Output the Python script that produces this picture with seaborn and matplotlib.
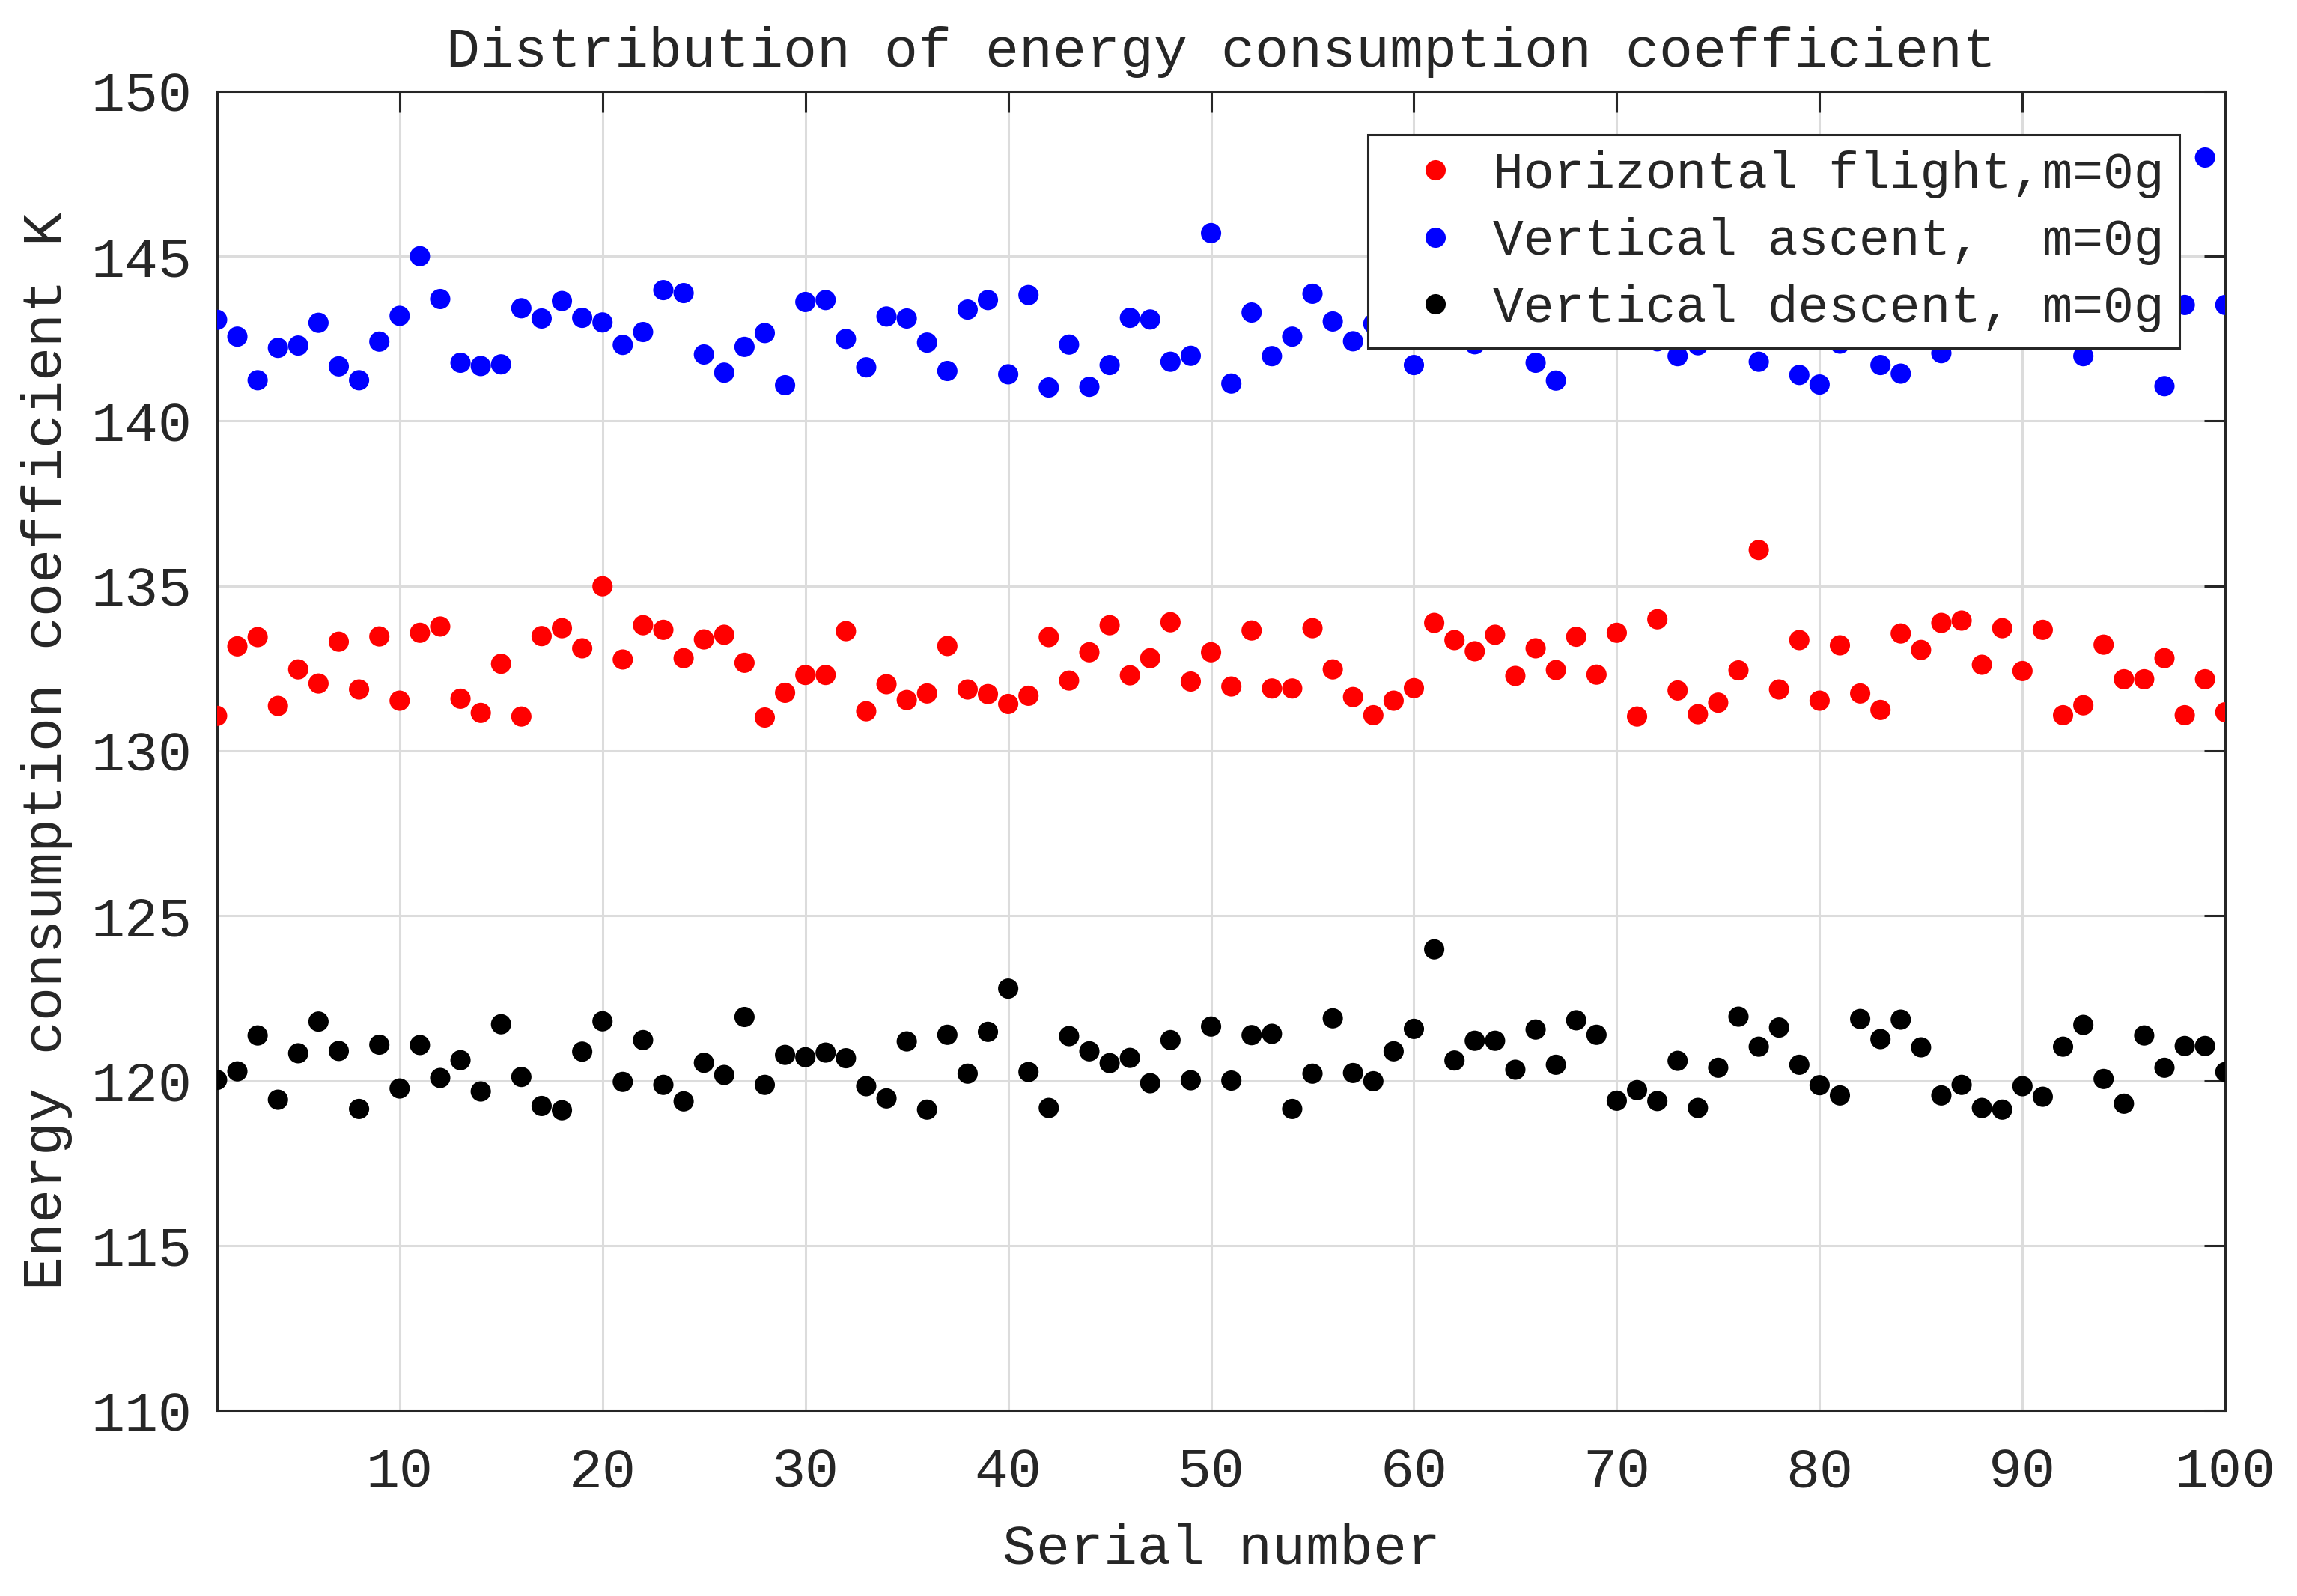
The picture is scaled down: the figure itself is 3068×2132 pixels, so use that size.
import matplotlib
matplotlib.use("Agg")
import matplotlib.pyplot as plt
import seaborn as sns
import numpy as np
import pandas as pd

# serial numbers 1..100
serial = np.arange(1, 101)

horizontal = [131.06, 133.17, 133.45, 131.36, 132.47, 132.04, 133.31, 131.86, 133.47, 131.52,
              133.58, 133.77, 131.58, 131.15, 132.64, 131.04, 133.48, 133.72, 133.11, 134.99,
              132.77, 133.81, 133.67, 132.81, 133.38, 133.52, 132.67, 131.01, 131.76, 132.30,
              132.30, 133.63, 131.20, 132.02, 131.54, 131.74, 133.18, 131.86, 131.72, 131.42,
              131.67, 133.45, 132.13, 132.99, 133.81, 132.29, 132.81, 133.90, 132.10, 132.99,
              131.95, 133.65, 131.89, 131.89, 133.72, 132.47, 131.63, 131.08, 131.52, 131.90,
              133.88, 133.36, 133.02, 133.52, 132.27, 133.11, 132.45, 133.46, 132.31, 133.58,
              131.04, 133.99, 131.83, 131.11, 131.46, 132.44, 136.09, 131.86, 133.36, 131.52,
              133.20, 131.74, 131.24, 133.56, 133.06, 133.88, 133.95, 132.61, 133.72, 132.42,
              133.67, 131.08, 131.38, 133.22, 132.17, 132.17, 132.81, 131.08, 132.17, 131.17]

ascent = [143.07, 142.56, 141.24, 142.22, 142.29, 142.98, 141.66, 141.24, 142.41, 143.19,
          145.00, 143.70, 141.77, 141.67, 141.72, 143.42, 143.11, 143.64, 143.13, 142.99,
          142.31, 142.70, 143.97, 143.88, 142.02, 141.47, 142.25, 142.67, 141.09, 143.61,
          143.67, 142.49, 141.63, 143.17, 143.11, 142.38, 141.52, 143.38, 143.67, 141.42,
          143.82, 141.02, 142.32, 141.04, 141.70, 143.13, 143.08, 141.80, 141.98, 145.70,
          141.14, 143.29, 141.97, 142.56, 143.86, 143.02, 142.42, 142.95, 143.40, 141.70,
          143.10, 142.50, 142.33, 143.60, 142.90, 141.77, 141.23, 143.30, 143.00, 143.70,
          143.00, 142.42, 141.97, 142.30, 143.20, 143.80, 141.80, 143.10, 141.40, 141.11,
          142.35, 143.50, 141.70, 141.44, 143.00, 142.06, 142.54, 143.30, 143.20, 142.52,
          143.60, 143.00, 141.97, 143.10, 143.40, 143.20, 141.06, 143.52, 147.99, 143.52]

descent = [120.02, 120.28, 121.37, 119.42, 120.83, 121.79, 120.90, 119.14, 121.09, 119.76,
           121.08, 120.08, 120.62, 119.67, 121.71, 120.11, 119.23, 119.10, 120.88, 121.80,
           119.96, 121.23, 119.87, 119.37, 120.54, 120.17, 121.93, 119.87, 120.78, 120.71,
           120.85, 120.68, 119.83, 119.46, 121.19, 119.12, 121.39, 120.21, 121.48, 122.79,
           120.26, 119.17, 121.35, 120.89, 120.53, 120.69, 119.92, 121.23, 120.01, 121.64,
           120.00, 121.38, 121.42, 119.14, 120.21, 121.89, 120.23, 119.98, 120.89, 121.57,
           123.98, 120.61, 121.21, 121.21, 120.33, 121.55, 120.48, 121.83, 121.39, 119.39,
           119.71, 119.38, 120.60, 119.17, 120.39, 121.94, 121.03, 121.61, 120.48, 119.86,
           119.55, 121.87, 121.26, 121.85, 121.01, 119.55, 119.87, 119.17, 119.12, 119.83,
           119.51, 121.03, 121.69, 120.05, 119.30, 121.37, 120.39, 121.05, 121.05, 120.26]

labels = ["Horizontal flight,m=0g", "Vertical ascent,  m=0g", "Vertical descent, m=0g"]
colors = ["#ff0000", "#0000ff", "#000000"]

xticks = [10, 20, 30, 40, 50, 60, 70, 80, 90, 100]
yticks = [110, 115, 120, 125, 130, 135, 140, 145, 150]

df = pd.DataFrame({
    "serial": np.tile(serial, 3),
    "K": horizontal + ascent + descent,
    "case": np.repeat(labels, 100),
})

sns.set_style("white")
plt.rcParams['font.family'] = ['Liberation Mono', 'DejaVu Sans']
plt.rcParams['axes.linewidth'] = 1.1

fig = plt.figure(figsize=(15.34, 10.66), dpi=200)
ax = fig.add_axes([0.0945, 0.1163, 0.8743, 0.8265])

sns.scatterplot(data=df, x="serial", y="K", hue="case", hue_order=labels,
                palette=colors, s=95, linewidth=0, ax=ax, zorder=3)

ax.set_xlim(1, 100)
ax.set_ylim(110, 150)
ax.set_xticks(xticks)
ax.set_yticks(yticks)
ax.grid(True, color="#dcdcdc", linewidth=1.1)
ax.set_axisbelow(True)

for sp in ax.spines.values():
    sp.set_color("#262626")
    sp.set_linewidth(1.1)
ax.tick_params(direction="in", top=True, right=True, length=10, width=1.1,
               color="#262626", labelsize=27, labelcolor="#262626")
ax.tick_params(axis="x", pad=17.5)
ax.tick_params(axis="y", pad=12)

ax.set_title("Distribution of energy consumption coefficient", fontsize=27, pad=12)
ax.set_xlabel("Serial number", fontsize=27, labelpad=12)
ax.set_ylabel("Energy consumption coefficient K", fontsize=27, labelpad=9)

leg = ax.legend(loc="upper right", bbox_to_anchor=(0.977, 0.967), fontsize=24.5,
                frameon=True, fancybox=False, framealpha=1, edgecolor="#262626",
                borderpad=0.3, labelspacing=0.38, handletextpad=0.1,
                handlelength=2.05, borderaxespad=0)
leg.get_frame().set_linewidth(1.1)

fig.savefig("out.png", dpi=200)
